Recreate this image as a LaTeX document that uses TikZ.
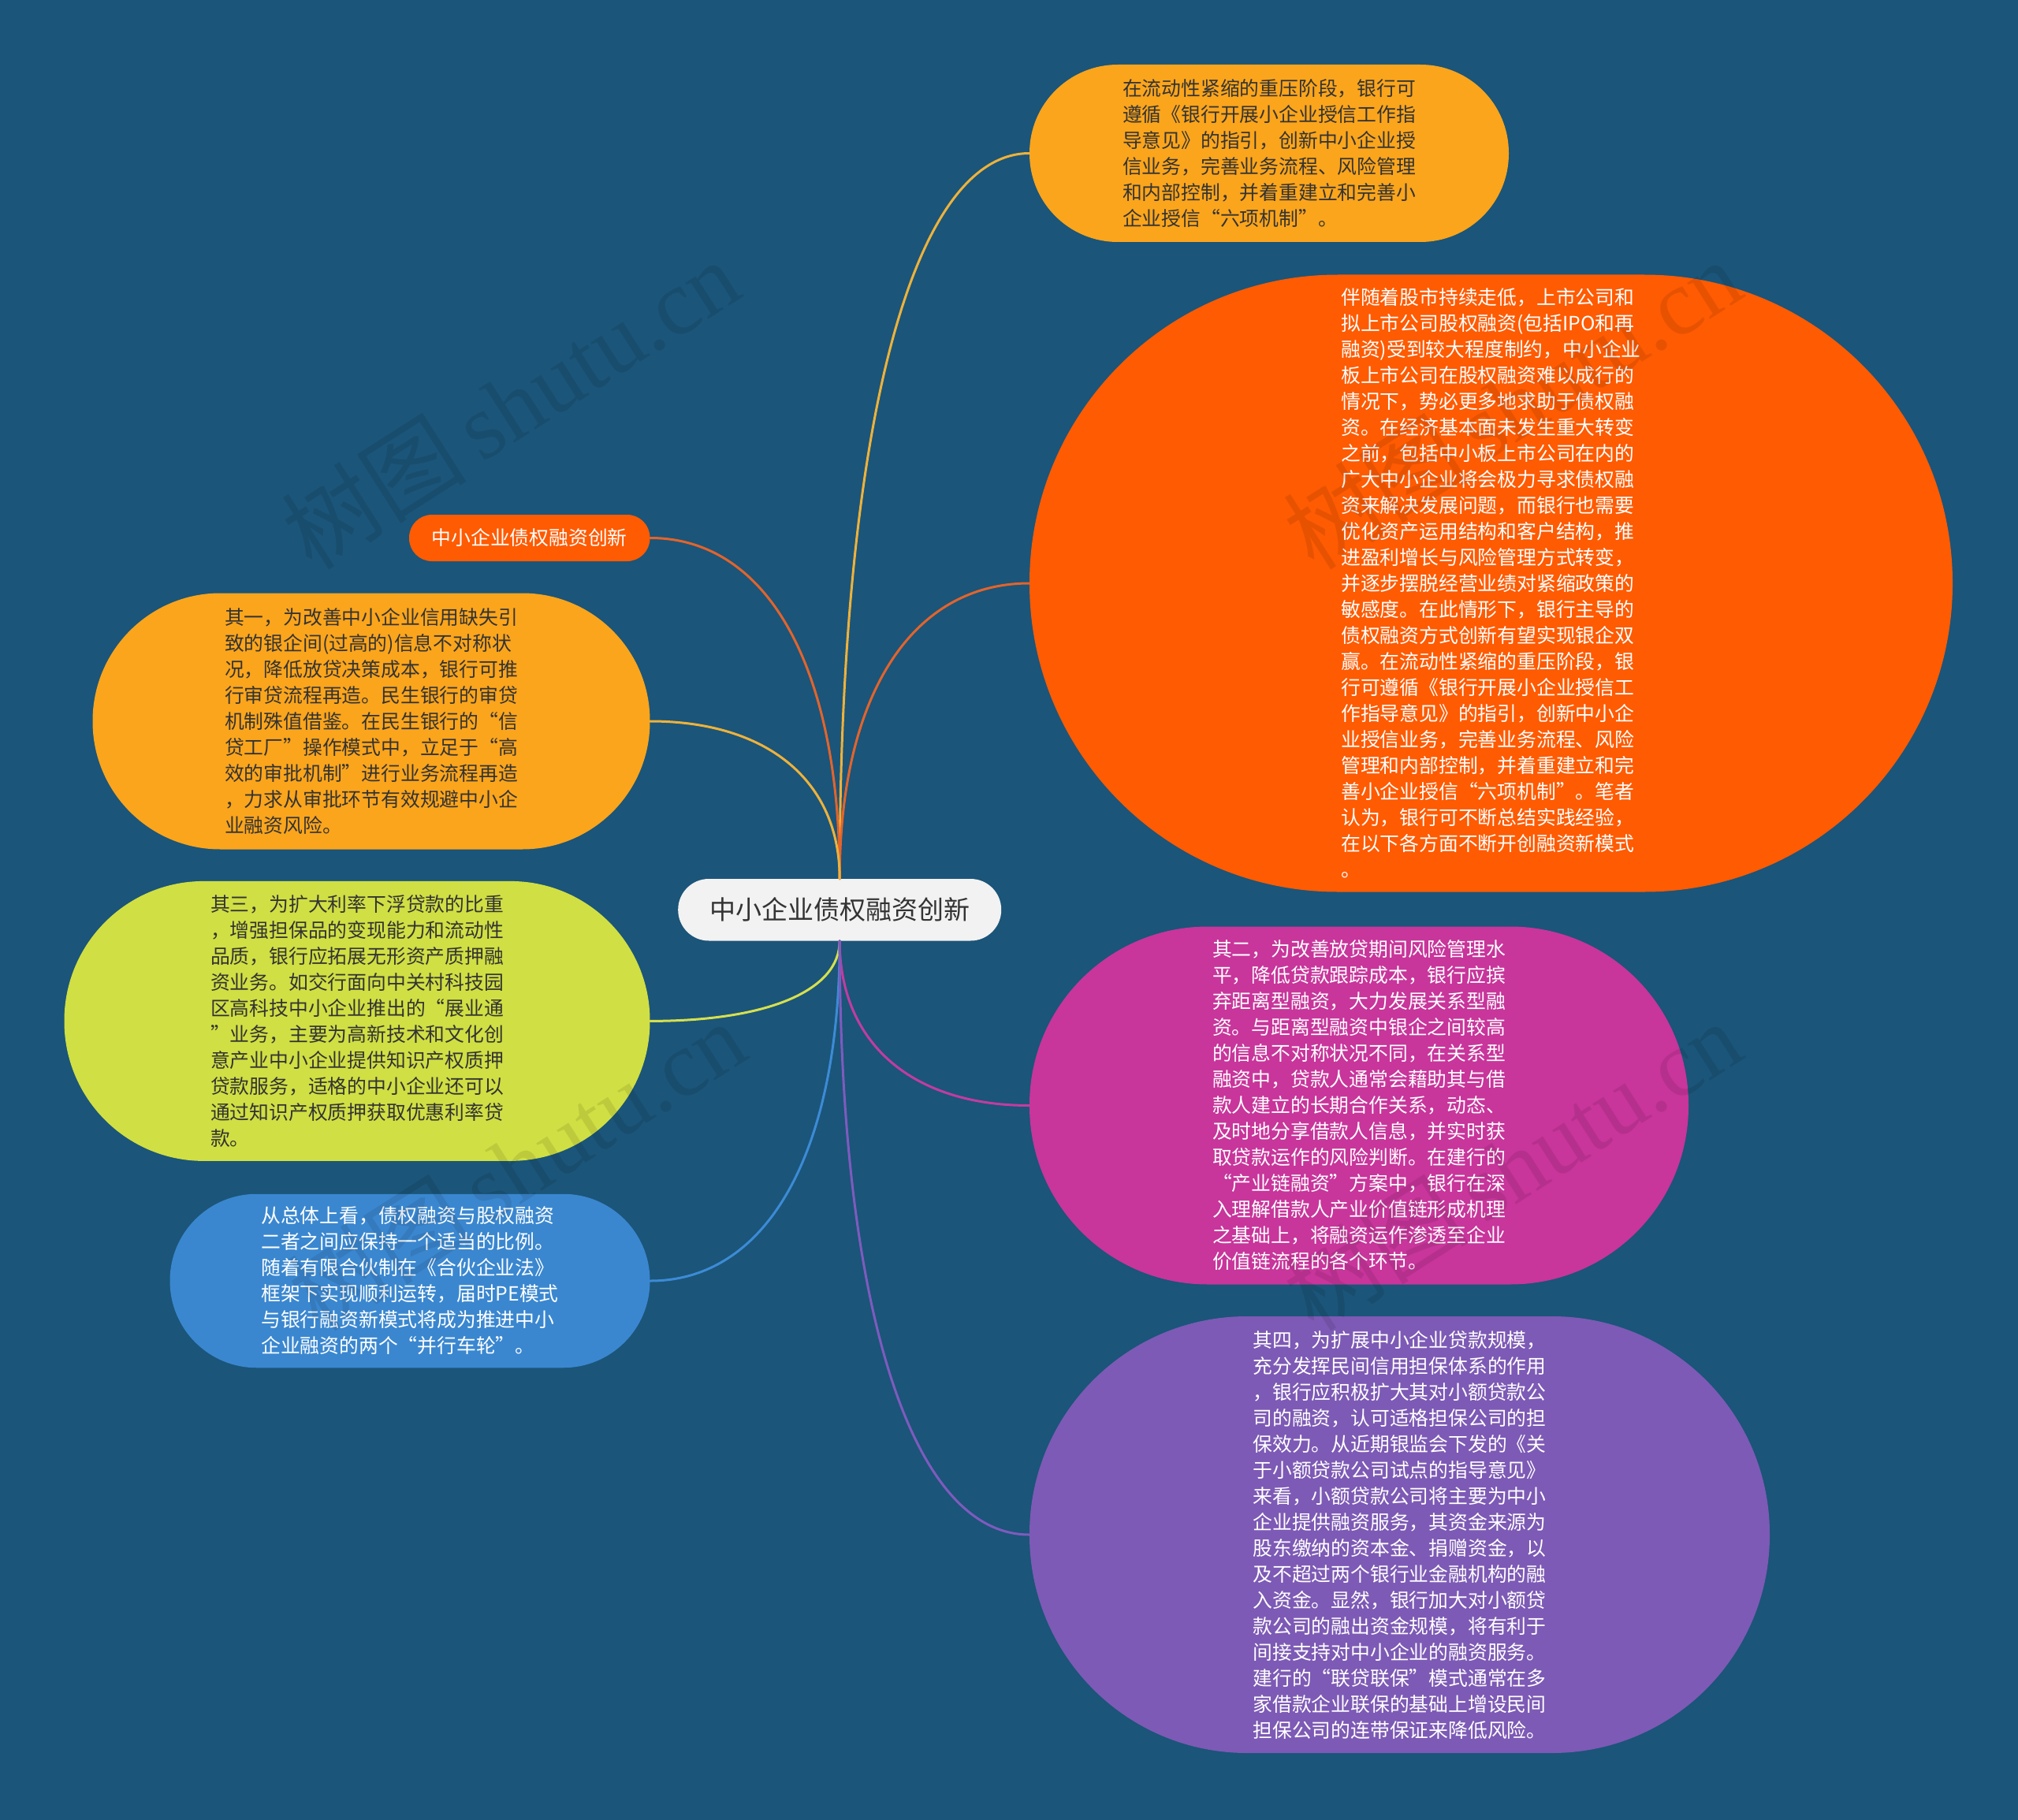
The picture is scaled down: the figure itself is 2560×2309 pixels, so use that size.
\documentclass[tikz,border=0pt]{standalone}
\usepackage{fontspec}
\setmainfont{Noto Sans CJK SC}
\newfontfamily\wmlatin{Liberation Serif}
\newfontfamily\wmcjk{Noto Sans CJK SC}
\usetikzlibrary{calc}
\definecolor{bgc}{HTML}{1B5579}
\definecolor{amber}{HTML}{FBA51C}
\definecolor{redor}{HTML}{FE5B02}
\definecolor{magc}{HTML}{C8359B}
\definecolor{purc}{HTML}{7D5AB5}
\definecolor{ygc}{HTML}{D0DF43}
\definecolor{bluec}{HTML}{3A87D0}
\definecolor{centc}{HTML}{F2F2F2}
\definecolor{darkt}{HTML}{333333}
\definecolor{lamber}{HTML}{EDB23C}
\definecolor{lred}{HTML}{E2642C}
\definecolor{lyg}{HTML}{D6E04E}
\definecolor{lmag}{HTML}{C23CA0}
\definecolor{lpur}{HTML}{7E5BBE}
\definecolor{lblue}{HTML}{3C8BD6}
\tikzset{
  bub/.style={rectangle, inner sep=0pt, align=left,
    font=\fontsize{24.8pt}{33pt}\selectfont},
  lnk/.style={line width=3pt, line cap=round},
  wm/.style={rotate=32.5, text=black, opacity=0.09, inner sep=0pt,
    font=\fontsize{118pt}{118pt}\selectfont},
}
\newcommand\mmlink[3]{%
  \draw[lnk,#1] (#2) .. controls ($(#2)!0.62!(#2 |- #3)$) and ($(#3)!0.62!(#2 |- #3)$) .. (#3);}
\begin{document}
\begin{tikzpicture}[x=1pt,y=-1pt]
\fill[bgc] (0,0) rectangle (2560,2309);
\useasboundingbox (0,0) rectangle (2560,2309);

% nodes
\node[bub, fill=centc, text=darkt, minimum width=410pt, minimum height=78.5pt,
  rounded corners=39pt, font=\fontsize{33pt}{40pt}\selectfont] (c) at (1065.2,1154.25) {中小企业债权融资创新};

\node[bub, fill=amber, text=darkt, minimum width=608pt, minimum height=225pt,
  rounded corners=112pt] (topO) at (1610,194.5) {%
在流动性紧缩的重压阶段，银行可\\
遵循《银行开展小企业授信工作指\\
导意见》的指引，创新中小企业授\\
信业务，完善业务流程、风险管理\\
和内部控制，并着重建立和完善小\\
企业授信“六项机制”。};

\node[bub, fill=redor, text=white, minimum width=1171pt, minimum height=783pt,
  rounded corners=391pt] (bigO) at (1891.5,740) {%
伴随着股市持续走低，上市公司和\\
拟上市公司股权融资(包括IPO和再\\
融资)受到较大程度制约，中小企业\\
板上市公司在股权融资难以成行的\\
情况下，势必更多地求助于债权融\\
资。在经济基本面未发生重大转变\\
之前，包括中小板上市公司在内的\\
广大中小企业将会极力寻求债权融\\
资来解决发展问题，而银行也需要\\
优化资产运用结构和客户结构，推\\
进盈利增长与风险管理方式转变，\\
并逐步摆脱经营业绩对紧缩政策的\\
敏感度。在此情形下，银行主导的\\
债权融资方式创新有望实现银企双\\
赢。在流动性紧缩的重压阶段，银\\
行可遵循《银行开展小企业授信工\\
作指导意见》的指引，创新中小企\\
业授信业务，完善业务流程、风险\\
管理和内部控制，并着重建立和完\\
善小企业授信“六项机制”。笔者\\
认为，银行可不断总结实践经验，\\
在以下各方面不断开创融资新模式\\
。};

\node[bub, fill=magc, text=white, minimum width=836pt, minimum height=454pt,
  rounded corners=226pt] (mag) at (1724,1402.5) {%
其二，为改善放贷期间风险管理水\\
平，降低贷款跟踪成本，银行应摈\\
弃距离型融资，大力发展关系型融\\
资。与距离型融资中银企之间较高\\
的信息不对称状况不同，在关系型\\
融资中，贷款人通常会藉助其与借\\
款人建立的长期合作关系，动态、\\
及时地分享借款人信息，并实时获\\
取贷款运作的风险判断。在建行的\\
“产业链融资”方案中，银行在深\\
入理解借款人产业价值链形成机理\\
之基础上，将融资运作渗透至企业\\
价值链流程的各个环节。};

\node[bub, fill=purc, text=white, minimum width=939pt, minimum height=554pt,
  rounded corners=276pt] (purp) at (1775.5,1947) {%
其四，为扩展中小企业贷款规模，\\
充分发挥民间信用担保体系的作用\\
，银行应积极扩大其对小额贷款公\\
司的融资，认可适格担保公司的担\\
保效力。从近期银监会下发的《关\\
于小额贷款公司试点的指导意见》\\
来看，小额贷款公司将主要为中小\\
企业提供融资服务，其资金来源为\\
股东缴纳的资本金、捐赠资金，以\\
及不超过两个银行业金融机构的融\\
入资金。显然，银行加大对小额贷\\
款公司的融出资金规模，将有利于\\
间接支持对中小企业的融资服务。\\
建行的“联贷联保”模式通常在多\\
家借款企业联保的基础上增设民间\\
担保公司的连带保证来降低风险。};

\node[bub, fill=redor, text=white, minimum width=305.5pt, minimum height=59pt,
  rounded corners=29pt] (redL) at (671.75,682.5) {中小企业债权融资创新};

\node[bub, fill=amber, text=darkt, minimum width=707pt, minimum height=325pt,
  rounded corners=162pt] (leftO) at (471,915) {%
其一，为改善中小企业信用缺失引\\
致的银企间(过高的)信息不对称状\\
况，降低放贷决策成本，银行可推\\
行审贷流程再造。民生银行的审贷\\
机制殊值借鉴。在民生银行的“信\\
贷工厂”操作模式中，立足于“高\\
效的审批机制”进行业务流程再造\\
，力求从审批环节有效规避中小企\\
业融资风险。};

\node[bub, fill=ygc, text=darkt, minimum width=743pt, minimum height=355pt,
  rounded corners=177pt] (yg) at (453,1295.4) {%
其三，为扩大利率下浮贷款的比重\\
，增强担保品的变现能力和流动性\\
品质，银行应拓展无形资产质押融\\
资业务。如交行面向中关村科技园\\
区高科技中小企业推出的“展业通\\
”业务，主要为高新技术和文化创\\
意产业中小企业提供知识产权质押\\
贷款服务，适格的中小企业还可以\\
通过知识产权质押获取优惠利率贷\\
款。};

\node[bub, fill=bluec, text=white, minimum width=609pt, minimum height=220.5pt,
  rounded corners=110pt] (blue) at (520,1625) {%
从总体上看，债权融资与股权融资\\
二者之间应保持一个适当的比例。\\
随着有限合伙制在《合伙企业法》\\
框架下实现顺利运转，届时PE模式\\
与银行融资新模式将成为推进中小\\
企业融资的两个“并行车轮”。};

% connectors
\mmlink{lamber}{c.north}{topO.west}
\mmlink{lred}{c.north}{bigO.west}
\mmlink{lred}{c.north}{redL.east}
\mmlink{lamber}{c.north}{leftO.east}
\mmlink{lyg}{c.south}{yg.east}
\mmlink{lblue}{c.south}{blue.east}
\mmlink{lmag}{c.south}{mag.west}
\mmlink{lpur}{c.south}{purp.west}

% watermarks
\node[wm] (wm1) at (647,512) {\wmcjk 树图\,\wmlatin shutu.cn};
\node[wm] (wm2) at (1918,512) {\wmcjk 树图\,\wmlatin shutu.cn};
\node[wm] (wm3) at (655,1478) {\wmcjk 树图\,\wmlatin shutu.cn};
\node[wm] (wm4) at (1918,1478) {\wmcjk 树图\,\wmlatin shutu.cn};
\end{tikzpicture}
\end{document}
